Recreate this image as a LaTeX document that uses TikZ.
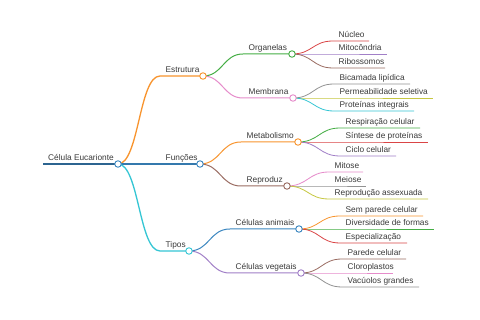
\documentclass[tikz,border=0pt]{standalone}
\usepackage{fontspec}
\setmainfont{Liberation Sans}
\usetikzlibrary{calc}
\definecolor{cblue}{HTML}{3A86C0}
\definecolor{corange}{HTML}{F8942E}
\definecolor{cgreen}{HTML}{45AE45}
\definecolor{cred}{HTML}{DA4546}
\definecolor{cpurple}{HTML}{A17FC7}
\definecolor{cbrown}{HTML}{9A6C62}
\definecolor{cpink}{HTML}{E68CCB}
\definecolor{cgray}{HTML}{929292}
\definecolor{colive}{HTML}{C6C740}
\definecolor{ccyan}{HTML}{35C6D4}
\definecolor{ctext}{HTML}{3A3A3A}
\tikzset{
  link/.style={to path={let \p1=(\tikztostart), \p2=(\tikztotarget) in
      .. controls ({(\x1+\x2)/2},\y1) and ({(\x1+\x2)/2},\y2) .. (\tikztotarget)}},
  lbl/.style={anchor=base west, inner sep=0pt, text=ctext, font=\fontsize{8.3}{9}\selectfont},
  circ/.style={circle, fill=white, line width=0.9pt, minimum size=6.5pt, inner sep=0pt},
  lw0/.style={line width=1.7pt},
  lw1/.style={line width=1.3pt},
  lw2/.style={line width=1.0pt},
  lw3/.style={line width=0.8pt},
}
% #1 name, #2 parent, #3 style, #4 start x, #5 end x, #6 y, #7 text
\newcommand{\mmbranch}[7]{%
  \coordinate (#1s) at (#4,#6);
  \coordinate (#1e) at (#5,#6);
  \draw[#3] (#2e) to[link] (#1s) -- (#1e);
  \node[lbl] (#1t) at (#4+5.5,#6-3) {#7};
}
\newcommand{\mmcirc}[2]{\node[circ,draw=#2] (#1c) at (#1e) {};}
\begin{document}
\begin{tikzpicture}[x=1pt,y=-1pt]
\useasboundingbox[fill=white] (0,0) rectangle (480,320);
% root
\coordinate (Rs) at (43,164);
\coordinate (Re) at (118,164);
\draw[cblue!75!black,lw0] (Rs) -- (Re);
\node[lbl] (Rt) at (48,161) {Célula Eucarionte};
% level 1
\mmbranch{A}{R}{corange,lw1}{160}{203}{76}{Estrutura}
\mmbranch{B}{R}{cblue!90!black,lw1}{160}{200}{164}{Funções}
\mmbranch{C}{R}{ccyan,lw1}{160}{189}{251}{Tipos}
% level 2
\mmbranch{AA}{A}{cgreen,lw2}{243}{292}{54}{Organelas}
\mmbranch{AB}{A}{cpink,lw2}{243}{293}{98}{Membrana}
\mmbranch{BA}{B}{corange,lw2}{241}{298}{142}{Metabolismo}
\mmbranch{BB}{B}{cbrown,lw2}{241}{287}{186}{Reproduz}
\mmbranch{CA}{C}{cblue,lw2}{230}{299}{229}{Células animais}
\mmbranch{CB}{C}{cpurple,lw2}{230}{301}{273}{Células vegetais}
% leaves
\mmbranch{AAa}{AA}{cred,lw3}{333}{369}{41}{Núcleo}
\mmbranch{AAb}{AA}{cpurple,lw3}{333}{387}{54}{Mitocôndria}
\mmbranch{AAc}{AA}{cbrown,lw3}{333}{385}{68}{Ribossomos}
\mmbranch{ABa}{AB}{cgray,lw3}{334}{410}{84}{Bicamada lipídica}
\mmbranch{ABb}{AB}{colive,lw3}{334}{433}{98}{Permeabilidade seletiva}
\mmbranch{ABc}{AB}{ccyan,lw3}{334}{414}{111}{Proteínas integrais}
\mmbranch{BAa}{BA}{cgreen,lw3}{340}{420}{128}{Respiração celular}
\mmbranch{BAb}{BA}{cred,lw3}{340}{428}{142}{Síntese de proteínas}
\mmbranch{BAc}{BA}{cpurple,lw3}{340}{396}{156}{Ciclo celular}
\mmbranch{BBa}{BB}{cpink,lw3}{329}{363}{172}{Mitose}
\mmbranch{BBb}{BB}{cgray,lw3}{329}{366}{186}{Meiose}
\mmbranch{BBc}{BB}{colive,lw3}{329}{428}{199}{Reprodução assexuada}
\mmbranch{CAa}{CA}{corange,lw3}{340}{423}{216}{Sem parede celular}
\mmbranch{CAb}{CA}{cgreen,lw3}{340}{434}{229}{Diversidade de formas}
\mmbranch{CAc}{CA}{cred,lw3}{340}{407}{243}{Especialização}
\mmbranch{CBa}{CB}{cbrown,lw3}{342}{406}{259}{Parede celular}
\mmbranch{CBb}{CB}{cpink,lw3}{342}{393}{273}{Cloroplastos}
\mmbranch{CBc}{CB}{cgray,lw3}{342}{419}{287}{Vacúolos grandes}
% circles
\mmcirc{R}{cblue}
\mmcirc{A}{corange}
\mmcirc{B}{cblue}
\mmcirc{C}{ccyan}
\mmcirc{AA}{cgreen}
\mmcirc{AB}{cpink}
\mmcirc{BA}{corange}
\mmcirc{BB}{cbrown}
\mmcirc{CA}{cblue}
\mmcirc{CB}{cpurple}
\end{tikzpicture}
\end{document}
